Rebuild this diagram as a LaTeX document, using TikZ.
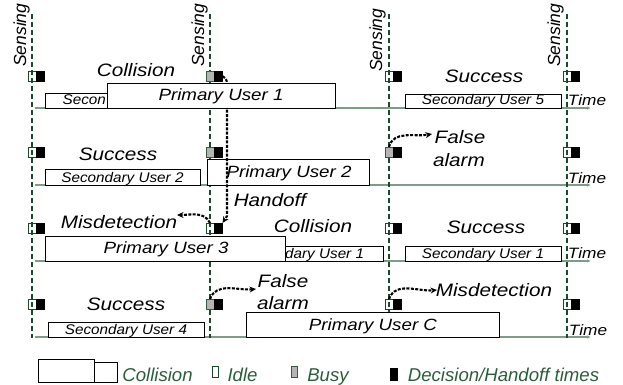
\documentclass[tikz,border=0pt]{standalone}
\usepackage{fontspec}
\newfontface\fLbl{Liberation Sans Italic}[FakeStretch=1.15]
\newfontface\fSec{Liberation Sans Italic}[FakeStretch=1.09]
\newfontface\fPlain{Liberation Sans Italic}
\usetikzlibrary{arrows.meta}
\definecolor{dgreen}{HTML}{1A4A29}
\definecolor{axisc}{HTML}{7F9C86}
\definecolor{legc}{HTML}{2B5E3B}
\definecolor{busyc}{HTML}{B4B4B4}
\begin{document}
\begin{tikzpicture}[x=1pt,y=-1pt,
  sensline/.style={dgreen, line width=1.9pt, dash pattern=on 5pt off 3pt},
  axisline/.style={axisc, line width=1.3pt, -{Latex[length=4pt,width=3.5pt]}},
  sq/.style={minimum width=8pt, minimum height=10.5pt, inner sep=0pt, outer sep=0pt, anchor=north west, line width=0.8pt},
  idle/.style={sq, draw=dgreen},
  busy/.style={sq, draw=dgreen!70!gray, fill=busyc},
  dec/.style={sq, draw=black, fill=black, minimum width=8.5pt},
  ubox/.style={draw=black, fill=white, line width=0.8pt, inner sep=0pt, outer sep=0pt, anchor=north west},
  lbl/.style={font=\fontsize{18}{20}\fLbl, inner sep=0pt, anchor=base},
  putxt/.style={font=\fontsize{16.3}{18}\fLbl, inner sep=0pt, anchor=base},
  sectxt/.style={font=\fontsize{14}{16}\fSec, inner sep=0pt, anchor=base},
  timetxt/.style={font=\fontsize{15}{17}\fLbl, inner sep=0pt, anchor=base},
  senstxt/.style={font=\fontsize{17.5}{19}\fPlain, inner sep=0pt, rotate=90, anchor=base west},
  legtxt/.style={font=\fontsize{18.6}{20}\fPlain, text=legc, inner sep=0pt, anchor=base},
  farrow/.style={black, line width=2.1pt, dash pattern=on 3pt off 1.4pt, -{Stealth[length=6.5pt,width=6pt]}},
]
\useasboundingbox (0,0) rectangle (623,385);

% time axes
\coordinate (a1s) at (35,108); \coordinate (a1e) at (591,108);
\coordinate (a2s) at (35,185); \coordinate (a2e) at (591,185);
\coordinate (a3s) at (35,261); \coordinate (a3e) at (591,261);
\coordinate (a4s) at (35,337); \coordinate (a4e) at (591,337);
\draw[axisline] (a1s) -- (a1e);
\draw[axisline] (a2s) -- (a2e);
\draw[axisline] (a3s) -- (a3e);
\draw[axisline] (a4s) -- (a4e);

% sensing lines
\coordinate (l1t) at (32,14);  \coordinate (l1b) at (32,338);
\coordinate (l2t) at (210,14); \coordinate (l2b) at (210,338);
\coordinate (l3t) at (389,14); \coordinate (l3b) at (389,338);
\coordinate (l4t) at (567,14); \coordinate (l4b) at (567,338);
\draw[sensline] (l1t) -- (l1b);
\draw[sensline] (l2t) -- (l2b);
\draw[sensline] (l3t) -- (l3b);
\draw[sensline] (l4t) -- (l4b);

\node[senstxt] (s1) at (26,67) {Sensing};
\node[senstxt] (s2) at (204,67) {Sensing};
\node[senstxt] (s3) at (382,72) {Sensing};
\node[senstxt] (s4) at (560,67) {Sensing};

% squares row 1
\node[idle] (i11) at (28,71) {};  \node[dec] (d11) at (36,71) {};
\node[busy] (b12) at (206,71) {}; \node[dec] (d12) at (214,71) {};
\node[idle] (i13) at (385,71) {}; \node[dec] (d13) at (393,71) {};
\node[idle] (i14) at (563,71) {}; \node[dec] (d14) at (571,71) {};
% row 2
\node[idle] (i21) at (28,147) {};  \node[dec] (d21) at (36,147) {};
\node[busy] (b22) at (206,147) {}; \node[dec] (d22) at (214,147) {};
\node[busy] (b23) at (385,147) {}; \node[dec] (d23) at (393,147) {};
\node[idle] (i24) at (563,147) {}; \node[dec] (d24) at (571,147) {};
% row 3
\node[idle] (i31) at (28,223) {};  \node[dec] (d31) at (36,223) {};
\node[idle] (i32) at (206,223) {}; \node[dec] (d32) at (214,223) {};
\node[idle] (i33) at (385,223) {}; \node[dec] (d33) at (393,223) {};
\node[idle] (i34) at (563,223) {}; \node[dec] (d34) at (571,223) {};
% row 4
\node[idle] (i41) at (28,299) {};  \node[dec] (d41) at (36,299) {};
\node[busy] (b42) at (206,299) {}; \node[dec] (d42) at (214,299) {};
\node[idle] (i43) at (385,299) {}; \node[dec] (d43) at (393,299) {};
\node[idle] (i44) at (563,299) {}; \node[dec] (d44) at (571,299) {};

% row 1 boxes (secondary partly hidden behind primary)
\node[ubox, minimum width=155pt, minimum height=15pt] (su3) at (45,93) {};
\node[sectxt, anchor=base west] (su3t) at (62.5,105) {Secon};
% row 2 boxes
\node[ubox, minimum width=155pt, minimum height=16pt] (su2) at (45,169) {};
\node[sectxt] (su2t) at (122.5,182) {Secondary User 2};
\node[ubox, minimum width=162pt, minimum height=26pt] (pu2) at (207,159) {};
\node[putxt] (pu2t) at (289,177) {Primary User 2};

% handoff arrow (passes under PU1 box, over PU2 box)
\coordinate (h1) at (227,92);
\coordinate (h2) at (227,216);
\draw[farrow] (d12.east) .. controls (227,79) .. (h1) -- (h2) -- (d32.north east);

% PU1 box
\node[ubox, minimum width=228pt, minimum height=25pt] (pu1) at (107,83) {};
\node[putxt] (pu1t) at (221,101) {Primary User 1};
\node[ubox, minimum width=156pt, minimum height=14pt] (su5) at (405,94) {};
\node[sectxt] (su5t) at (483,105) {Secondary User 5};

% row 3 boxes
\node[ubox, minimum width=160pt, minimum height=15pt] (su1a) at (223,246) {};
\node[sectxt] (su1at) at (303,258) {Secondary User 1};
\node[ubox, minimum width=240pt, minimum height=25pt] (pu3) at (45,236) {};
\node[putxt] (pu3t) at (166,253) {Primary User 3};
\node[ubox, minimum width=156pt, minimum height=15pt] (su1b) at (405,246) {};
\node[sectxt] (su1bt) at (483,258) {Secondary User 1};

% row 4 boxes
\node[ubox, minimum width=156pt, minimum height=15pt] (su4) at (48,322) {};
\node[sectxt] (su4t) at (126,334) {Secondary User 4};
\node[ubox, minimum width=253pt, minimum height=25pt] (puc) at (246,312) {};
\node[putxt] (puct) at (373,330) {Primary User C};

% labels
\node[lbl] (c1) at (136,77) {Collision};
\node[lbl] (sc1) at (484,83) {Success};
\node[lbl] (sc2) at (118,160) {Success};
\node[lbl] (fa2) at (460,143) {False};
\node[lbl] (al2) at (459,166) {alarm};
\node[lbl] (ho) at (270,206) {Handoff};
\node[lbl] (md3) at (119,228) {Misdetection};
\node[lbl] (c3) at (313,232) {Collision};
\node[lbl] (sc3) at (486,233) {Success};
\node[lbl] (sc4) at (126,310) {Success};
\node[lbl] (fa4) at (283,287) {False};
\node[lbl] (al4) at (283,309) {alarm};
\node[lbl] (md4) at (494,296) {Misdetection};

\node[timetxt] (t1) at (587,106) {Time};
\node[timetxt] (t2) at (587,183) {Time};
\node[timetxt] (t3) at (587,258) {Time};
\node[timetxt] (t4) at (588,335) {Time};

% event arrows
\coordinate (fa2e) at (432,134);
\coordinate (md3e) at (177,215);
\coordinate (fa4e) at (256,289);
\coordinate (md4e) at (437,290);
\draw[farrow] (b23.north) to[out=75,in=190] (fa2e);
\draw[farrow] (i32.north) to[out=115,in=0] (md3e);
\draw[farrow] (b42.north) to[out=70,in=185] (fa4e);
\draw[farrow] (i43.north) to[out=70,in=185] (md4e);

% legend
\node[ubox, minimum width=56pt, minimum height=23pt] (lc1) at (38,359) {};
\node[ubox, minimum width=23pt, minimum height=20pt] (lc2) at (94,362) {};
\node[legtxt] (lct) at (157.5,381) {Collision};
\node[idle, minimum width=6pt, minimum height=11pt] (li) at (212,366) {};
\node[legtxt] (lit) at (242.5,381) {Idle};
\node[busy, minimum width=6pt, minimum height=11pt] (lb) at (291,366) {};
\node[legtxt] (lbt) at (328,381) {Busy};
\node[dec, minimum width=7pt, minimum height=12pt] (ld) at (390,368) {};
\node[legtxt] (ldt) at (503.5,381) {Decision/Handoff times};
\end{tikzpicture}
\end{document}
